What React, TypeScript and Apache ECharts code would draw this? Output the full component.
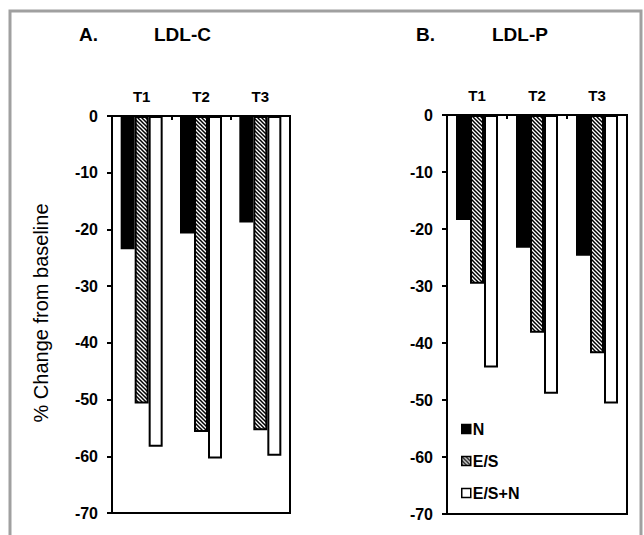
import React, { useEffect, useRef } from "react";
import * as echarts from "echarts";

const categories = ["T1", "T2", "T3"];
const seriesNames = ["N", "E/S", "E/S+N"];
const yTicks = { min: -70, max: 0, interval: 10 };

// Panel A: LDL-C
const ldlcN = [-23.5, -20.7, -18.8];
const ldlcES = [-50.7, -55.7, -55.4];
const ldlcESN = [-58.3, -60.4, -59.9];

// Panel B: LDL-P
const ldlpN = [-18.4, -23.3, -24.7];
const ldlpES = [-29.6, -38.2, -41.8];
const ldlpESN = [-44.3, -48.9, -50.6];

const FONT = "'Liberation Sans', Arial, Helvetica, sans-serif";

function makeHatch(): HTMLCanvasElement {
  const c = document.createElement("canvas");
  const s = 4;
  c.width = s;
  c.height = s;
  const ctx = c.getContext("2d")!;
  ctx.fillStyle = "#ffffff";
  ctx.fillRect(0, 0, s, s);
  ctx.strokeStyle = "#000000";
  ctx.lineWidth = 1.5;
  ctx.beginPath();
  ctx.moveTo(-1, -1);
  ctx.lineTo(s + 1, s + 1);
  ctx.moveTo(-1, s - 1);
  ctx.lineTo(1, s + 1);
  ctx.moveTo(s - 1, -1);
  ctx.lineTo(s + 1, 1);
  ctx.stroke();
  return c;
}

export default function App() {
  const ref = useRef<HTMLDivElement>(null);

  useEffect(() => {
    if (!ref.current) return;
    const chart = echarts.init(ref.current, undefined, { renderer: "svg" });
    const hatch = makeHatch();

    const fills: any[] = [
      "#000000",
      { image: hatch, repeat: "repeat" },
      "#ffffff",
    ];

    const panels = [
      [ldlcN, ldlcES, ldlcESN],
      [ldlpN, ldlpES, ldlpESN],
    ];

    const grids = [
      { left: 112, top: 116, width: 178, height: 397 },
      { left: 447, top: 115, width: 180, height: 399 },
    ].map((g) => ({
      ...g,
      show: true,
      borderColor: "#000",
      borderWidth: 2,
      backgroundColor: "transparent",
      containLabel: false,
    }));

    const xAxes = [0, 1].map((i) => ({
      type: "category",
      gridIndex: i,
      data: categories,
      position: "top",
      axisLine: { show: true, lineStyle: { color: "#000", width: 2 } },
      axisTick: { show: true, inside: true, length: 4, lineStyle: { color: "#000", width: 2 } },
      axisLabel: {
        show: true,
        color: "#000",
        fontFamily: FONT,
        fontWeight: "bold",
        fontSize: 15,
        margin: 12,
      },
      splitLine: { show: false },
    }));

    const yAxes = [0, 1].map((i) => ({
      type: "value",
      gridIndex: i,
      min: yTicks.min,
      max: yTicks.max,
      interval: yTicks.interval,
      axisLine: { show: true, lineStyle: { color: "#000", width: 2 } },
      axisTick: { show: true, inside: false, length: 5, lineStyle: { color: "#000", width: 2 } },
      axisLabel: {
        color: "#000",
        fontFamily: FONT,
        fontWeight: "bold",
        fontSize: 16,
        margin: 14,
      },
      splitLine: { show: false },
    }));

    const series: any[] = [];
    panels.forEach((vals, gi) => {
      vals.forEach((d, si) => {
        series.push({
          type: "bar",
          name: seriesNames[si],
          xAxisIndex: gi,
          yAxisIndex: gi,
          data: d,
          barWidth: 14,
          barGap: "0%",
          itemStyle: {
            color: fills[si],
            borderColor: "#000",
            borderWidth: 2,
          },
          emphasis: { disabled: true },
        });
      });
    });

    chart.setOption({
      animation: false,
      backgroundColor: "#ffffff",
      grid: grids,
      xAxis: xAxes,
      yAxis: yAxes,
      series,
      legend: {
        data: seriesNames,
        orient: "vertical",
        left: 456,
        top: 416,
        itemWidth: 9,
        itemHeight: 9,
        itemGap: 16,
        icon: "rect",
        itemStyle: { borderWidth: 1.5, borderColor: "#000" },
        textStyle: {
          color: "#000",
          fontFamily: FONT,
          fontWeight: "bold",
          fontSize: 16,
          padding: [0, 0, 0, -3],
        },
        selectedMode: false,
      },
      graphic: [
        {
          type: "polyline",
          shape: { points: [[10, 535], [10, 11], [641, 11], [641, 535]] },
          style: { stroke: "#a0a0a0", lineWidth: 3, fill: "none" },
          silent: true,
        },
        {
          type: "text",
          x: 79,
          y: 44,
          style: { text: "A.", font: `bold 19px ${FONT}`, fill: "#000", textVerticalAlign: "bottom" },
        },
        {
          type: "text",
          x: 154,
          y: 44,
          style: { text: "LDL-C", font: `bold 19px ${FONT}`, fill: "#000", textVerticalAlign: "bottom" },
        },
        {
          type: "text",
          x: 416,
          y: 44,
          style: { text: "B.", font: `bold 19px ${FONT}`, fill: "#000", textVerticalAlign: "bottom" },
        },
        {
          type: "text",
          x: 492,
          y: 44,
          style: { text: "LDL-P", font: `bold 19px ${FONT}`, fill: "#000", textVerticalAlign: "bottom" },
        },
        {
          type: "text",
          x: 41,
          y: 313,
          rotation: Math.PI / 2,
          style: {
            text: "% Change from baseline",
            font: `20px ${FONT}`,
            fill: "#000",
            textAlign: "center",
            textVerticalAlign: "middle",
          },
        },
      ],
    });

    return () => chart.dispose();
  }, []);

  return (
    <div
      ref={ref}
      style={{ position: "fixed", left: 0, top: 0, width: 644, height: 535, background: "#fff" }}
    />
  );
}
